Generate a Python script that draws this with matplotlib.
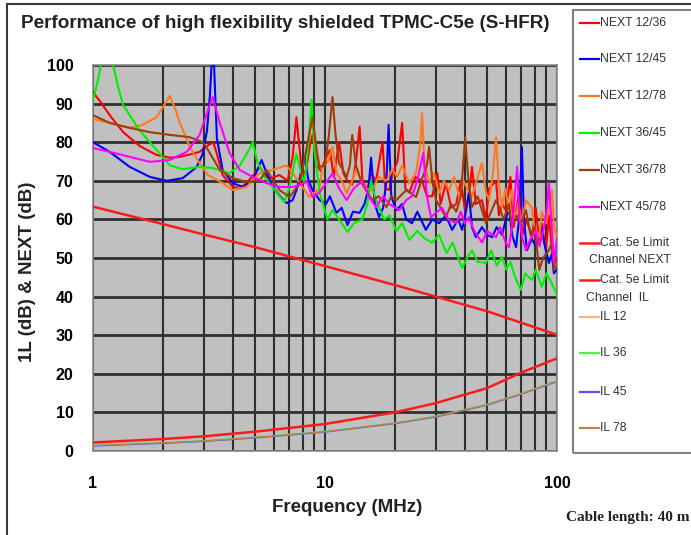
import matplotlib
matplotlib.use("Agg")
import matplotlib.pyplot as plt
from matplotlib.lines import Line2D
from matplotlib.patches import Rectangle
from matplotlib.ticker import FixedLocator, NullFormatter

# ---------------- data ----------------
title = "Performance of high flexibility shielded TPMC-C5e (S-HFR)"
x_label = "Frequency (MHz)"
y_label = "1L (dB) & NEXT (dB)"
note = "Cable length: 40 m"
x_ticks = [1, 10, 100]
x_tick_labels = ["1", "10", "100"]
y_ticks = [0, 10, 20, 30, 40, 50, 60, 70, 80, 90, 100]

next_12_36_f = [1.00, 1.09, 1.18, 1.35, 1.59, 1.88, 2.14, 2.37, 2.61, 2.88, 3.1, 3.3, 3.42, 3.62, 4.0, 4.29, 4.6, 5.0,
                5.22, 5.6, 5.89, 6.36, 6.9, 7.25, 7.53, 7.78, 8.0, 8.3, 8.6, 8.84, 9.2, 9.6, 10.1, 10.5, 10.9, 11.5,
                12.0, 12.5, 13.1, 13.6, 14.1, 14.5, 15.2, 15.8, 16.6, 17.7, 18.2, 18.9, 19.6, 20.5, 21.5, 22.2, 23.1,
                24.5, 26.2, 27.5, 29.0, 30.5, 31.5, 33.2, 35.0, 36.8, 38.5, 40.2, 41.7, 43.0, 44.7, 47.5, 49.4, 51.0,
                54.6, 56.2, 58.0, 60.2, 63.0, 65.0, 68.6, 71.0, 74.0, 77.9, 81.0, 83.9, 86.0, 89.6, 92.3, 95.1, 97.0, 100]
next_12_36_v = [93, 90, 87, 82.6, 79, 76.7, 76, 76.2, 76.8, 77.5, 79, 80, 77, 71.5, 68.5, 68, 69.5, 72,
                73.6, 71, 70.7, 71.5, 70, 76, 86.5, 78, 71, 73, 79, 82, 74, 72.5, 76, 78, 71, 80,
                72, 70, 69, 75, 84, 70, 67.6, 72, 70, 80, 68, 67.6, 72, 75, 85, 68, 67,
                71, 70, 66, 66, 72, 64, 69.4, 63, 64, 70, 62, 66, 73.6, 64, 65, 60, 68,
                70, 61, 64, 62.4, 71, 58, 67, 56, 60, 55.4, 63, 54, 59, 52, 61, 52, 48, 50]

next_12_45_f = [1.00, 1.18, 1.44, 1.76, 2.08, 2.44, 2.8, 2.97, 3.1, 3.19, 3.25, 3.32, 3.42, 3.62, 4.0, 4.42, 4.88,
                5.33, 5.6, 5.95, 6.4, 6.83, 7.25, 7.53, 7.8, 8.16, 8.5, 8.84, 9.47, 10.1, 10.5, 11.2, 11.8, 12.5,
                13.2, 14.1, 14.8, 15.4, 15.8, 16.4, 17.1, 17.8, 18.4, 18.8, 19.3, 20.3, 21.5, 22.4, 23.7, 25.0,
                27.2, 29.0, 31.0, 33.2, 35.3, 37.5, 39.0, 40.5, 41.7, 43.0, 44.7, 47.5, 50.0, 52.5, 55.0, 58.0,
                60.2, 62.1, 64.0, 66.6, 68.6, 70.6, 72.0, 74.2, 77.9, 81.0, 84.0, 85.6, 88.0, 92.3, 95.0, 97.0, 100]
next_12_45_v = [80, 77.5, 73.6, 71, 70, 70.7, 73.6, 77, 83, 92, 101, 101, 81, 72.8, 69.4, 68.4, 70,
                75.4, 72, 68.4, 66, 64.2, 65, 67.6, 71, 76, 70, 67.6, 65, 64, 66, 61.7, 63, 58.5,
                62, 61.7, 64, 68, 76, 64, 60.6, 63, 70, 84.5, 66, 62.4, 64, 60, 59, 62,
                57.3, 60, 59, 61, 57.3, 60, 57.3, 62, 67, 58, 55.4, 58, 56, 55.4, 58, 56,
                60, 63.2, 56, 52.8, 60, 78.8, 60, 52, 55, 53, 56, 58, 54, 48.7, 51, 46, 47]

next_12_78_f = [1.00, 1.18, 1.44, 1.64, 1.88, 2.0, 2.14, 2.25, 2.37, 2.61, 2.88, 3.13, 3.62, 4.0, 4.59, 5.22, 5.95,
                6.83, 7.25, 7.78, 8.58, 9.47, 9.75, 10.3, 10.77, 11.2, 11.8, 12.4, 13.1, 13.6, 14.1, 15.0, 16.0,
                17.0, 18.4, 19.5, 20.5, 21.5, 23.1, 24.7, 25.8, 26.2, 26.8, 28.1, 29.5, 31.0, 32.5, 34.3, 36.0,
                37.9, 39.5, 41.0, 43.0, 45.0, 47.5, 49.4, 51.0, 53.0, 54.6, 56.0, 57.9, 60.0, 62.0, 64.0, 66.0,
                68.0, 70.6, 73.4, 77.9, 80.0, 83.9, 86.0, 89.6, 92.3, 95.1, 97.0, 100]
next_12_78_v = [86, 85, 83.7, 84.5, 86.5, 89, 92, 89, 85, 78.8, 74.6, 71.5, 69.4, 67.6, 68.4, 72, 72.8,
                74, 72, 69.4, 65.8, 68, 73.6, 75, 78.8, 72, 70, 66.8, 70, 73, 71, 68, 67.6,
                71, 70, 73, 71, 74, 69.4, 72, 80, 87.6, 75, 69.4, 72, 66.8, 70, 67.6, 71,
                65.8, 70, 68, 66, 70, 74.6, 67, 65, 72, 81.3, 70, 63, 68, 62, 67.6, 60,
                64, 59, 65, 63, 58, 55.4, 62, 59, 63, 67.6, 58, 55]

next_36_45_f = [1.00, 1.05, 1.09, 1.2, 1.22, 1.3, 1.35, 1.59, 1.88, 2.14, 2.44, 2.88, 3.28, 3.88, 4.3, 4.7, 4.88,
                5.1, 5.49, 6.0, 6.36, 6.68, 7.0, 7.53, 7.9, 8.16, 8.5, 8.75, 9.0, 9.47, 10.25, 10.77, 11.5, 12.5,
                13.3, 14.5, 15.2, 15.8, 16.4, 17.1, 18.0, 19.0, 20.3, 21.5, 23.1, 25.0, 27.0, 29.0, 31.0, 33.4,
                35.5, 37.5, 39.0, 41.0, 43.0, 45.5, 49.4, 52.0, 55.0, 57.9, 60.5, 63.0, 66.0, 69.9, 73.0, 77.9,
                81.0, 86.1, 90.0, 94.0, 100]
next_36_45_v = [91, 96, 101, 101, 100, 93, 89.6, 83, 78, 74, 73, 73.6, 73.3, 72, 74, 78, 80,
                75, 71, 68, 66, 64.5, 68, 77, 72, 69.4, 80, 91, 78, 67, 60, 62.4, 60, 56.7,
                59, 60, 64, 70, 66, 63, 60, 61, 57, 59, 54.7, 57, 55, 54, 56, 51.3,
                54, 50, 47.4, 50, 52, 49, 48.7, 52, 48, 50.3, 47, 49, 45, 41.7, 46, 44.3,
                47, 42.5, 46, 44, 40.4]

next_36_78_f = [1.00, 1.18, 1.44, 1.76, 2.14, 2.61, 2.97, 3.13, 3.52, 4.0, 4.59, 5.22, 5.6, 6.0, 6.36, 7.04, 7.78,
                8.3, 8.84, 9.2, 9.47, 10.0, 10.4, 10.77, 11.1, 11.5, 12.4, 12.8, 13.1, 13.6, 14.4, 15.2, 16.0,
                17.0, 18.4, 19.3, 20.3, 22.4, 24.7, 26.0, 27.5, 28.1, 29.0, 30.1, 31.5, 33.2, 35.0, 36.8, 38.5,
                40.2, 41.5, 43.0, 45.5, 49.4, 52.0, 54.6, 56.2, 59.0, 62.0, 64.0, 67.0, 70.0, 73.4, 77.0, 80.0,
                83.9, 87.0, 92.3, 95.1, 97.0, 100]
next_36_78_v = [87, 85, 83.7, 82.6, 81.9, 81.3, 80, 78, 72.8, 70.7, 69.7, 70, 72.8, 70, 67.6, 65.8, 69.4,
                78, 86.5, 78, 73.6, 74, 82, 91.7, 82, 74.6, 71, 74, 81.9, 74, 69.4, 67, 65,
                66, 63.2, 66, 65, 67.6, 65.8, 70, 74, 78.8, 70, 65, 63, 60.6, 64, 62, 66,
                81.3, 70, 63.2, 66, 59, 62, 65, 63.2, 60, 64, 58, 61, 59, 62.4, 56, 58,
                46.9, 50, 52, 54, 47, 48]

next_45_78_f = [1.00, 1.18, 1.44, 1.76, 2.14, 2.54, 2.88, 3.13, 3.28, 3.52, 3.88, 4.29, 4.88, 5.6, 6.36, 7.25, 7.9,
                8.33, 8.84, 9.47, 10.0, 10.77, 11.5, 12.4, 13.3, 14.5, 15.4, 16.6, 17.8, 18.9, 20.9, 22.4, 23.7,
                25.0, 26.5, 27.5, 28.6, 30.5, 32.0, 34.0, 36.8, 38.5, 40.0, 41.7, 44.0, 47.5, 50.0, 54.6, 57.0,
                60.0, 62.1, 64.5, 67.3, 69.0, 71.0, 73.4, 77.0, 81.0, 84.0, 88.0, 90.5, 92.3, 94.5, 97.1, 100]
next_45_78_v = [78.5, 77.5, 76.2, 74.9, 75.4, 77.5, 81.9, 88.3, 91.7, 85, 77.2, 72.8, 71, 69.4, 68.4, 68.4, 69,
                70, 65.8, 67, 69, 72, 68, 65, 68, 70, 66, 63.2, 66, 64, 62.4, 65, 66,
                70, 77.2, 66, 60.6, 62, 63, 60, 59, 62, 59, 60.6, 57, 54, 57, 55.4, 58,
                54, 52.8, 60, 73.6, 60, 55, 52, 55, 57, 53, 58, 63, 69.4, 60, 48.7, 55]

limit_next_f = [1, 2, 3, 5, 10, 20, 30, 50, 100]
limit_next_v = [63.3, 58.8, 56.1, 52.8, 47.9, 43.0, 40.0, 36.2, 30.1]

limit_il_f = [1, 2, 3, 5, 10, 20, 30, 50, 70, 100]
limit_il_v = [2.2, 3.1, 3.8, 5.0, 7.0, 10.0, 12.4, 16.3, 20.3, 24.0]

il_f = [1, 2, 3, 5, 10, 20, 30, 50, 70, 100]
il_12_v = [1.4, 2.1, 2.6, 3.5, 5.0, 7.2, 8.9, 12.0, 14.8, 18.1]
il_36_v = [1.5, 2.2, 2.7, 3.6, 5.1, 7.3, 9.0, 12.1, 14.9, 18.2]
il_45_v = [1.3, 2.0, 2.5, 3.4, 4.9, 7.1, 8.8, 11.9, 14.7, 18.0]
il_78_v = [1.4, 2.1, 2.6, 3.5, 5.0, 7.2, 8.9, 12.0, 14.8, 18.1]

# ---------------- styling ----------------
W, H = 691, 535
fig = plt.figure(figsize=(W / 100, H / 100), dpi=100)
fig.patch.set_facecolor("white")

def fx(px):
    return px / W

def fy(py):
    return 1 - py / H

# outer frame
fig.patches.append(Rectangle((fx(7), fy(700)), fx(800), fy(4) - fy(700), transform=fig.transFigure,
                             fill=False, edgecolor="#3a3a3a", linewidth=1.5))

ax = fig.add_axes([fx(93), fy(451), fx(557) - fx(93), fy(65) - fy(451)])
ax.set_facecolor("#c0c0c0")
ax.set_xscale("log")
ax.set_xlim(1, 100)
ax.set_ylim(0, 100)

ax.xaxis.set_major_locator(FixedLocator(x_ticks))
ax.xaxis.set_minor_locator(FixedLocator([m * d for d in (1, 10) for m in range(2, 10)]))
ax.xaxis.set_minor_formatter(NullFormatter())
ax.set_xticks(x_ticks, x_tick_labels)
ax.set_yticks(y_ticks)
ax.grid(True, which="major", axis="y", color="#303030", linewidth=2.0)
ax.grid(True, which="both", axis="x", color="#303030", linewidth=1.5)
ax.tick_params(which="both", length=0)
ax.tick_params(axis="y", pad=14)
ax.tick_params(axis="x", pad=18)
for lab in ax.get_xticklabels() + ax.get_yticklabels():
    lab.set_fontfamily("Liberation Sans")
    lab.set_fontweight("bold")
    lab.set_fontsize(11.5)
for s in ax.spines.values():
    s.set_color("#8a8a8a")
    s.set_linewidth(1.2)
ax.set_axisbelow(True)

series = [
    ("NEXT 12/36", next_12_36_f, next_12_36_v, "#ff0000", 1.5),
    ("NEXT 12/45", next_12_45_f, next_12_45_v, "#0000ff", 1.5),
    ("NEXT 12/78", next_12_78_f, next_12_78_v, "#ff7820", 1.5),
    ("NEXT 36/45", next_36_45_f, next_36_45_v, "#00f000", 1.5),
    ("NEXT 36/78", next_36_78_f, next_36_78_v, "#a03c08", 1.5),
    ("NEXT 45/78", next_45_78_f, next_45_78_v, "#ff00ff", 1.5),
    ("Cat. 5e Limit\nChannel NEXT", limit_next_f, limit_next_v, "#ff1a1a", 1.8),
    ("Cat. 5e Limit\nChannel  IL", limit_il_f, limit_il_v, "#ff1a1a", 1.8),
    ("IL 12", il_f, il_12_v, "#ffb080", 1.0),
    ("IL 36", il_f, il_36_v, "#50f050", 1.0),
    ("IL 45", il_f, il_45_v, "#5050ff", 1.0),
    ("IL 78", il_f, il_78_v, "#c08050", 1.0),
]
order = [8, 9, 10, 11, 0, 1, 2, 4, 5, 3, 6, 7]
for i in order:
    name, f, v, c, lw = series[i]
    ax.plot(f, v, color=c, linewidth=lw, solid_joinstyle="round", zorder=3 + i * 0.01)

# texts
fig.text(fx(21), fy(24), title, ha="left", va="center", fontsize=13.6, fontweight="bold",
         family="Liberation Sans", color="#222222")
fig.text(fx(28), fy(272), y_label, rotation=90, ha="center", va="center", fontsize=13.5,
         fontweight="bold", family="Liberation Sans", color="#222222")
fig.text(fx(347), fy(508), x_label, ha="center", va="center", fontsize=13.5,
         fontweight="bold", family="Liberation Sans", color="#222222")
fig.text(fx(689), fy(518), note, ha="right", va="center", fontsize=11,
         fontweight="bold", family="Liberation Serif", color="#222222")

# legend (drawn manually to match the source layout)
fig.patches.append(Rectangle((fx(573), fy(453)), fx(200), fy(10) - fy(453), transform=fig.transFigure,
                             fill=False, edgecolor="#808080", linewidth=1.5))
leg_y = [23, 59, 96, 133, 170, 207, 243, 280, 317, 353, 392, 428]
second_line = {6: ("Channel NEXT", 589, 260), 7: ("Channel  IL", 586, 298)}
leg_font = "Liberation Sans"
for i, (name, f, v, c, lw) in enumerate(series):
    y = leg_y[i]
    fig.add_artist(Line2D([fx(580), fx(599)], [fy(y), fy(y)], color=c, linewidth=max(lw, 1.6),
                          transform=fig.transFigure))
    first = name.split("\n")[0]
    fig.text(fx(600), fy(y), first, ha="left", va="center", fontsize=8.8, family=leg_font, color="#333333")
    if i in second_line:
        t, x0, y2 = second_line[i]
        fig.text(fx(x0), fy(y2), t, ha="left", va="center", fontsize=8.8, family=leg_font, color="#333333")

fig.savefig("out.png", dpi=100)
